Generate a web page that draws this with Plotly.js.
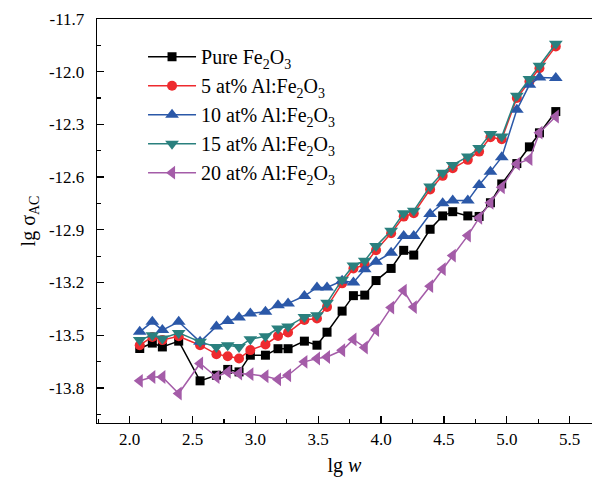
<!DOCTYPE html>
<html>
<head>
<meta charset="utf-8">
<script src="https://cdn.plot.ly/plotly-3.0.1.min.js"></script>
<style>html,body{margin:0;padding:0;background:#fff;}#chart{width:592px;height:478px;}</style>
</head>
<body>
<div id="chart"></div>
<script>
var lgW = [2.08, 2.18, 2.26, 2.39, 2.56, 2.69, 2.78, 2.87, 2.96,
           3.08, 3.18, 3.26, 3.39, 3.49, 3.57, 3.69, 3.78, 3.87, 3.96,
           4.08, 4.18, 4.26, 4.39, 4.49, 4.57, 4.69, 4.78, 4.87, 4.96,
           5.08, 5.18, 5.26, 5.39];

var pureFe2O3 = [-13.576, -13.545, -13.567, -13.534, -13.760, -13.728, -13.695, -13.709, -13.614,
                 -13.614, -13.577, -13.577, -13.534, -13.557, -13.483, -13.363, -13.275, -13.272, -13.189,
                 -13.120, -13.017, -13.044, -12.897, -12.821, -12.797, -12.821, -12.824, -12.746, -12.639,
                 -12.523, -12.428, -12.348, -12.227];

var al5 = [-13.557, -13.510, -13.528, -13.506, -13.557, -13.608, -13.620, -13.633, -13.585,
           -13.553, -13.505, -13.485, -13.414, -13.405, -13.339, -13.205, -13.120, -13.100, -13.016,
           -12.920, -12.825, -12.806, -12.670, -12.593, -12.550, -12.502, -12.455, -12.373, -12.384,
           -12.150, -12.056, -11.980, -11.856];

var al10 = [-13.481, -13.424, -13.471, -13.424, -13.538, -13.450, -13.420, -13.400, -13.376,
            -13.367, -13.329, -13.319, -13.277, -13.228, -13.228, -13.190, -13.200, -13.125, -13.082,
            -13.031, -12.935, -12.935, -12.810, -12.749, -12.734, -12.734, -12.645, -12.569, -12.487,
            -12.217, -12.075, -12.033, -12.036];

var al15 = [-13.528, -13.500, -13.519, -13.487, -13.538, -13.567, -13.557, -13.567, -13.523,
            -13.506, -13.462, -13.450, -13.396, -13.386, -13.316, -13.184, -13.103, -13.076, -12.993,
            -12.906, -12.806, -12.791, -12.654, -12.575, -12.531, -12.483, -12.435, -12.354, -12.369,
            -12.137, -12.042, -11.966, -11.841];

var al20 = [-13.760, -13.738, -13.738, -13.832, -13.661, -13.738, -13.709, -13.718, -13.722,
            -13.734, -13.752, -13.728, -13.652, -13.633, -13.624, -13.586, -13.524, -13.570, -13.471,
            -13.343, -13.246, -13.340, -13.221, -13.124, -13.047, -12.933, -12.832, -12.746, -12.658,
            -12.525, -12.498, -12.347, -12.255];

var seriesNames = ["Pure Fe<sub>2</sub>O<sub>3</sub>",
                   "5 at% Al:Fe<sub>2</sub>O<sub>3</sub>",
                   "10 at% Al:Fe<sub>2</sub>O<sub>3</sub>",
                   "15 at% Al:Fe<sub>2</sub>O<sub>3</sub>",
                   "20 at% Al:Fe<sub>2</sub>O<sub>3</sub>"];

var xTickVals = [2.0, 2.5, 3.0, 3.5, 4.0, 4.5, 5.0, 5.5];
var xTickText = ["2.0", "2.5", "3.0", "3.5", "4.0", "4.5", "5.0", "5.5"];
var yTickVals = [-11.7, -12.0, -12.3, -12.6, -12.9, -13.2, -13.5, -13.8];
var yTickText = ["-11.7", "-12.0", "-12.3", "-12.6", "-12.9", "-13.2", "-13.5", "-13.8"];

var serif = "Liberation Serif, Times New Roman, serif";
var allY = [pureFe2O3, al5, al10, al15, al20];
var colors = ["#000000", "#ee2a2e", "#2b58a8", "#2a807e", "#a45ca8"];
var symbols = ["square", "circle", "triangle-up", "triangle-down", "triangle-left"];
var sizes = [9, 10, 12, 12, 12];

var traces = allY.map(function (ys, i) {
  return {
    x: lgW, y: ys, name: seriesNames[i], type: "scatter", mode: "lines+markers",
    line: {color: colors[i], width: 1.5},
    marker: {color: colors[i], symbol: symbols[i], size: sizes[i], line: {width: 0}}
  };
});

var layout = {
  width: 592, height: 478,
  margin: {l: 97, r: 0, t: 19, b: 55},
  paper_bgcolor: "#fff", plot_bgcolor: "#fff",
  font: {family: serif, size: 17, color: "#000"},
  showlegend: true,
  legend: {x: 0.093, y: 0.955, xanchor: "left", yanchor: "top", bgcolor: "rgba(0,0,0,0)",
           font: {family: serif, size: 20, color: "#000"}, tracegroupgap: 0, itemwidth: 48},
  xaxis: {
    range: [1.74, 5.678], showgrid: false, zeroline: false,
    showline: true, linecolor: "#000", linewidth: 1.3, mirror: true,
    ticks: "inside", ticklen: 7, tickwidth: 1.3, tickcolor: "#000",
    tickvals: xTickVals, ticktext: xTickText,
    tickfont: {family: serif, size: 17},
    minor: {ticks: "inside", ticklen: 4, tickwidth: 1.2, tickcolor: "#000", tick0: 1.75, dtick: 0.25, showgrid: false},
    title: {text: "lg <i>w</i>", font: {family: serif, size: 20}, standoff: 10}
  },
  yaxis: {
    range: [-14.0, -11.7], showgrid: false, zeroline: false,
    showline: true, linecolor: "#000", linewidth: 1.3, mirror: false,
    ticks: "inside", ticklen: 7, tickwidth: 1.3, tickcolor: "#000",
    tickvals: yTickVals, ticktext: yTickText,
    tickfont: {family: serif, size: 17}, ticklabelstandoff: 8,
    minor: {ticks: "inside", ticklen: 4, tickwidth: 1.2, tickcolor: "#000", tick0: -11.7, dtick: 0.15, showgrid: false},
    title: {text: "lg σ<sub>AC</sub>", font: {family: serif, size: 20}, standoff: 8}
  }
};

Plotly.newPlot("chart", traces, layout, {displayModeBar: false, staticPlot: true});
</script>
</body>
</html>
